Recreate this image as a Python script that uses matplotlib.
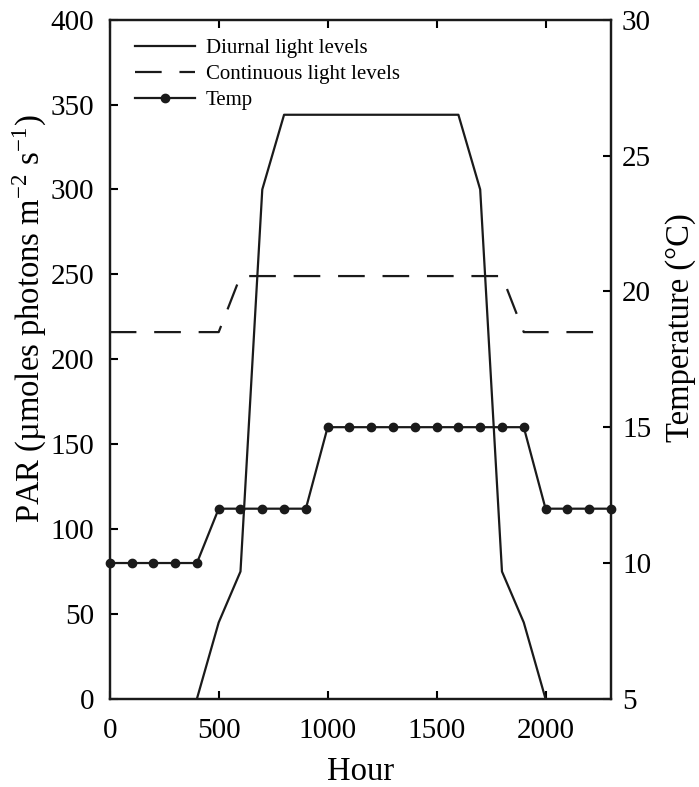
import numpy as np
import matplotlib
matplotlib.use("Agg")
import matplotlib.pyplot as plt

plt.rcParams['font.family'] = ['Liberation Serif', 'DejaVu Serif']
plt.rcParams['mathtext.fontset'] = 'stix'

# diurnal light levels (PAR)
hour_diurnal = [400, 500, 600, 700, 800, 1600, 1700, 1800, 1900, 2000]
par_diurnal = [0, 45, 75, 300, 344, 344, 300, 75, 45, 0]

# continuous light levels (PAR)
hour_cont = [0, 500, 600, 1800, 1900, 2300]
par_cont = [216, 216, 249, 249, 216, 216]

# temperature, every 100 h
hour_temp = list(range(0, 2301, 100))
temp = [10] * 5 + [12] * 5 + [15] * 10 + [12] * 4

fig = plt.figure(figsize=(6.99, 7.87), dpi=100)
ax = fig.add_axes([0.157, 0.112, 0.717, 0.863])
ax2 = ax.twinx()

l1, = ax.plot(hour_diurnal, par_diurnal, color='#1a1a1a', lw=1.6, label='Diurnal light levels')
l2, = ax.plot(hour_cont, par_cont, color='#1a1a1a', lw=1.6, dashes=(12, 8), label='Continuous light levels')
l3, = ax2.plot(hour_temp, temp, color='#1a1a1a', lw=1.6, marker='o', ms=6, label='Temp', clip_on=False)

ax.set_xlim(0, 2300)
ax.set_ylim(0, 400)
ax2.set_ylim(5, 30)
ax.set_xticks([0, 500, 1000, 1500, 2000])
ax.set_yticks(range(0, 401, 50))
ax2.set_yticks(range(5, 31, 5))

ax.tick_params(axis='x', direction='in', top=True, length=6, width=1.5, labelsize=21, pad=14)
ax.tick_params(axis='y', direction='in', length=6, width=1.5, labelsize=21, pad=11)
ax2.tick_params(axis='y', direction='in', length=6, width=1.5, labelsize=21, pad=8)
for a in (ax, ax2):
    for s in a.spines.values():
        s.set_linewidth(1.6)
        s.set_color('#1a1a1a')

ax.set_xlabel('Hour', fontsize=23.5)
ax.set_ylabel(r'PAR (µmoles photons m$^{\mathregular{-2}}$ s$^{\mathregular{-1}}$)', fontsize=23.5)
ax2.set_ylabel('Temperature (°C)', fontsize=23.5)
ax.xaxis.set_label_coords(0.5, -0.085)
ax.yaxis.set_label_coords(-0.124, 0.56)
ax2.yaxis.set_label_coords(1.108, 0.546)

ax.legend(handles=[l1, l2, l3], loc='upper left', bbox_to_anchor=(0.05, 0.972),
          frameon=False, fontsize=15, handlelength=2.9, handletextpad=0.5,
          labelspacing=0.3, borderpad=0, borderaxespad=0)

fig.savefig('out.png', dpi=100)
